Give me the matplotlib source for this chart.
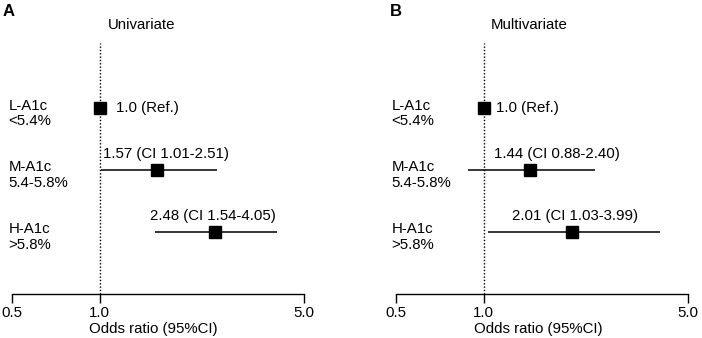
import matplotlib
matplotlib.use("Agg")
import matplotlib.pyplot as plt
from matplotlib.ticker import FixedLocator, FixedFormatter, NullLocator

plt.rcParams['font.family'] = ['Liberation Sans', 'DejaVu Sans']

# ---- data ----
row_labels = ["L-A1c\n<5.4%", "M-A1c\n5.4-5.8%", "H-A1c\n>5.8%"]
uni_or = [1.0, 1.57, 2.48]
uni_lo = [None, 1.01, 1.54]
uni_hi = [None, 2.51, 4.05]
multi_or = [1.0, 1.44, 2.01]
multi_lo = [None, 0.88, 1.03]
multi_hi = [None, 2.40, 3.99]
xticks = [0.5, 1.0, 5.0]
xtick_labels = ["0.5", "1.0", "5.0"]
panel_titles = ["Univariate", "Multivariate"]
panel_letters = ["A", "B"]
xlabel = "Odds ratio (95%CI)"

W, H = 702, 338
DPI = 100
fig = plt.figure(figsize=(W / DPI, H / DPI), dpi=DPI)
FS = 10.8

def fx(px):
    return px / W

def fy(py):
    return 1 - py / H

panels = [
    dict(left=11.7, right=304.0, ors=uni_or, lo=uni_lo, hi=uni_hi,
         label_dx=[16, 9.5, -2], title_x=141.7, letter_x=9, xlabel_x=153,
         rowlab_dx=-3.4),
    dict(left=395.7, right=688.3, ors=multi_or, lo=multi_lo, hi=multi_hi,
         label_dx=[12.5, 27, 3], title_x=529, letter_x=396, xlabel_x=538.5,
         rowlab_dx=-4),
]
top_px, bot_px = 43, 294

for i, p in enumerate(panels):
    ax = fig.add_axes([fx(p['left']), fy(bot_px), fx(p['right'] - p['left']),
                       (bot_px - top_px) / H])
    ax.set_xscale('log')
    ax.set_xlim(xticks[0], xticks[-1])
    ax.set_ylim(3.0, -1.05)
    for s in ['top', 'left', 'right']:
        ax.spines[s].set_visible(False)
    ax.spines['bottom'].set_linewidth(1.0)
    ax.xaxis.set_major_locator(FixedLocator(xticks))
    ax.xaxis.set_major_formatter(FixedFormatter(xtick_labels))
    ax.xaxis.set_minor_locator(NullLocator())
    ax.tick_params(axis='x', direction='out', length=6.8, width=1.0,
                   pad=2, labelsize=FS)
    ax.set_yticks([])
    ax.axvline(1.0, color='black', lw=1.0, ls=(0, (1, 1.4)))

    for r, (o, lo, hi) in enumerate(zip(p['ors'], p['lo'], p['hi'])):
        if lo is not None:
            ax.plot([lo, hi], [r, r], color='black', lw=1.1, solid_capstyle='butt')
            txt = f"{o:.2f} (CI {lo:.2f}-{hi:.2f})"
            ax.annotate(txt, xy=(o, r), xytext=(p['label_dx'][r], 16),
                        textcoords='offset pixels', ha='center', va='center',
                        fontsize=FS)
        else:
            txt = f"{o:.1f} (Ref.)"
            ax.annotate(txt, xy=(o, r), xytext=(p['label_dx'][r], 0),
                        textcoords='offset pixels', ha='left', va='center',
                        fontsize=FS)
        ax.plot([o], [r], marker='s', ms=8.6, color='black', zorder=5,
                clip_on=False)
        ax.annotate(row_labels[r], xy=(0, r), xycoords=ax.get_yaxis_transform(),
                    xytext=(p['rowlab_dx'], -5), textcoords='offset pixels',
                    ha='left', va='center', fontsize=FS, linespacing=1.1,
                    multialignment='left')

    fig.text(fx(p['title_x']), fy(25), panel_titles[i], ha='center', va='center',
             fontsize=FS)
    fig.text(fx(p['letter_x']), fy(11), panel_letters[i], ha='center',
             va='center', fontsize=12, fontweight='bold')
    fig.text(fx(p['xlabel_x']), fy(329), xlabel, ha='center', va='center',
             fontsize=FS)

fig.savefig("out.png", dpi=DPI)
